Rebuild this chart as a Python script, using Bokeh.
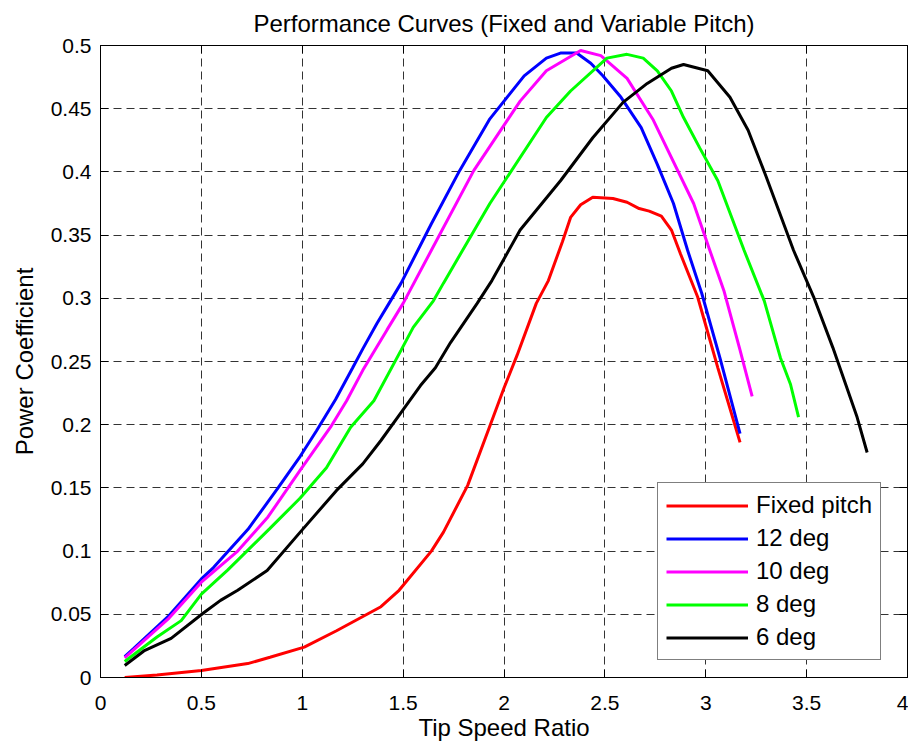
from bokeh.plotting import figure
from bokeh.models import (FixedTicker, CustomJSTickFormatter, LinearAxis, Legend,
                          LegendItem, Range1d)
from bokeh.embed import file_html
from bokeh.resources import INLINE

# ---- data ----
x_ticks = [0, 0.5, 1, 1.5, 2, 2.5, 3, 3.5, 4]
y_ticks = [0, 0.05, 0.1, 0.15, 0.2, 0.25, 0.3, 0.35, 0.4, 0.45, 0.5]

series_names = ["Fixed pitch", "12 deg", "10 deg", "8 deg", "6 deg"]
series_colors = ["#FF0000", "#0000FF", "#FF00FF", "#00FF00", "#000000"]

x_fixed = [0.12, 0.28, 0.50, 0.73, 0.84, 1.01, 1.17, 1.39, 1.48, 1.64, 1.70, 1.82, 1.93,
           2.00, 2.065, 2.16, 2.22, 2.29, 2.33, 2.38, 2.44, 2.54, 2.61, 2.67, 2.72, 2.78,
           2.83, 2.875, 2.96, 3.06, 3.17]
y_fixed = [0.000, 0.002, 0.0055, 0.011, 0.016, 0.024, 0.037, 0.056, 0.069, 0.100, 0.115,
           0.152, 0.199, 0.229, 0.255, 0.296, 0.314, 0.345, 0.364, 0.374, 0.380, 0.379,
           0.376, 0.371, 0.369, 0.365, 0.354, 0.335, 0.301, 0.245, 0.186]

x_12 = [0.12, 0.165, 0.34, 0.50, 0.56, 0.73, 0.88, 0.99, 1.07, 1.165, 1.25, 1.30, 1.37,
        1.43, 1.49, 1.64, 1.78, 1.93, 2.10, 2.21, 2.28, 2.36, 2.43, 2.49, 2.58, 2.68,
        2.76, 2.84, 2.91, 2.98, 3.07, 3.17]
y_12 = [0.0166, 0.023, 0.049, 0.078, 0.087, 0.117, 0.150, 0.175, 0.195, 0.220, 0.245,
        0.260, 0.280, 0.296, 0.312, 0.359, 0.401, 0.442, 0.476, 0.490, 0.494, 0.494,
        0.486, 0.476, 0.459, 0.435, 0.406, 0.375, 0.338, 0.304, 0.253, 0.193]

x_10 = [0.12, 0.34, 0.50, 0.68, 0.83, 0.99, 1.14, 1.22, 1.30, 1.42, 1.50, 1.64, 1.85,
        2.08, 2.21, 2.38, 2.48, 2.61, 2.74, 2.94, 3.02, 3.09, 3.17, 3.23]
y_10 = [0.0155, 0.047, 0.0754, 0.100, 0.127, 0.164, 0.198, 0.219, 0.243, 0.275, 0.296,
        0.338, 0.401, 0.456, 0.480, 0.496, 0.492, 0.474, 0.441, 0.375, 0.338, 0.306,
        0.259, 0.2225]

x_8 = [0.12, 0.28, 0.40, 0.50, 0.63, 0.84, 0.99, 1.12, 1.24, 1.355, 1.49, 1.55, 1.65,
       1.70, 1.93, 2.21, 2.33, 2.51, 2.61, 2.69, 2.76, 2.83, 2.89, 2.97, 3.06, 3.19,
       3.29, 3.37, 3.42, 3.46]
y_8 = [0.0127, 0.032, 0.045, 0.066, 0.085, 0.118, 0.142, 0.166, 0.198, 0.219, 0.259,
       0.277, 0.298, 0.312, 0.375, 0.443, 0.464, 0.490, 0.493, 0.490, 0.480, 0.464,
       0.443, 0.419, 0.393, 0.338, 0.298, 0.253, 0.232, 0.206]

x_6 = [0.12, 0.215, 0.35, 0.51, 0.595, 0.68, 0.826, 0.99, 1.17, 1.30, 1.39, 1.487,
       1.586, 1.66, 1.735, 1.867, 1.94, 2.08, 2.28, 2.44, 2.59, 2.71, 2.83, 2.89, 3.01,
       3.12, 3.21, 3.30, 3.435, 3.535, 3.63, 3.75, 3.80]
y_6 = [0.0095, 0.021, 0.031, 0.051, 0.061, 0.069, 0.0846, 0.115, 0.148, 0.169, 0.1875,
       0.209, 0.231, 0.245, 0.265, 0.296, 0.314, 0.354, 0.393, 0.427, 0.455, 0.470,
       0.482, 0.485, 0.480, 0.459, 0.433, 0.396, 0.338, 0.301, 0.261, 0.206, 0.178]

series_x = [x_fixed, x_12, x_10, x_8, x_6]
series_y = [y_fixed, y_12, y_10, y_8, y_6]

FONT = "Liberation Sans"

p = figure(frame_width=807, frame_height=632,
           min_border_left=100, min_border_right=1, min_border_top=45, min_border_bottom=60,
           x_range=Range1d(0, 4), y_range=Range1d(0, 0.5),
           output_backend="svg", toolbar_location=None,
           title="Performance Curves (Fixed and Variable Pitch)")
p.background_fill_color = "white"
p.border_fill_color = "white"
p.outline_line_color = "black"
p.outline_line_width = 1

p.title.text_font = FONT
p.title.text_font_size = "24px"
p.title.text_font_style = "normal"
p.title.text_color = "black"
p.title.align = "center"
p.title.standoff = 13
p.title.vertical_align = "top"

fmt = CustomJSTickFormatter(code="return tick.toString();")
blank = CustomJSTickFormatter(code="return '';")

for ax in (p.xaxis[0], p.yaxis[0]):
    ax.axis_line_color = "black"
    ax.major_tick_in = 8
    ax.major_tick_out = 0
    ax.minor_tick_line_color = None
    ax.major_tick_line_color = "black"
    ax.major_label_text_font = FONT
    ax.major_label_text_font_size = "21px"
    ax.major_label_text_color = "black"
    ax.axis_label_text_font = FONT
    ax.axis_label_text_font_size = "24px"
    ax.axis_label_text_font_style = "normal"
    ax.axis_label_text_color = "black"
    ax.formatter = fmt

p.xaxis[0].ticker = FixedTicker(ticks=x_ticks)
p.yaxis[0].ticker = FixedTicker(ticks=y_ticks)
p.xaxis[0].axis_label = "Tip Speed Ratio"
p.yaxis[0].axis_label = "Power Coefficient"
p.xaxis[0].major_label_standoff = 18
p.xaxis[0].axis_label_standoff = 1
p.yaxis[0].major_label_standoff = 9
p.yaxis[0].axis_label_standoff = 10

top_axis = LinearAxis(ticker=FixedTicker(ticks=x_ticks), formatter=blank,
                      major_tick_in=8, major_tick_out=0, minor_tick_line_color=None,
                      axis_line_color="black", major_label_text_font_size="1px",
                      major_label_standoff=0)
right_axis = LinearAxis(ticker=FixedTicker(ticks=y_ticks), formatter=blank,
                        major_tick_in=8, major_tick_out=0, minor_tick_line_color=None,
                        axis_line_color="black", major_label_text_font_size="1px",
                        major_label_standoff=0)
p.add_layout(top_axis, "above")
p.add_layout(right_axis, "right")

for g in (p.xgrid[0], p.ygrid[0]):
    g.grid_line_color = "#333333"
    g.grid_line_dash = "8 5"
    g.grid_line_width = 1
p.xgrid[0].ticker = FixedTicker(ticks=x_ticks)
p.ygrid[0].ticker = FixedTicker(ticks=y_ticks)

items = []
for name, col, xs, ys in zip(series_names, series_colors, series_x, series_y):
    r = p.line(xs, ys, line_color=col, line_width=3)
    items.append(LegendItem(label=name, renderers=[r]))

legend = Legend(items=items, location=(557, 17))
legend.label_text_font = FONT
legend.label_text_font_size = "24px"
legend.label_text_color = "black"
legend.glyph_width = 82
legend.glyph_height = 27
legend.label_height = 27
legend.label_standoff = 8
legend.spacing = 5
legend.padding = 8
legend.margin = 0
legend.border_line_color = "black"
legend.border_line_width = 1
legend.background_fill_color = "white"
legend.background_fill_alpha = 1
p.add_layout(legend, "center")

open("out.html", "w").write(file_html(p, INLINE))
